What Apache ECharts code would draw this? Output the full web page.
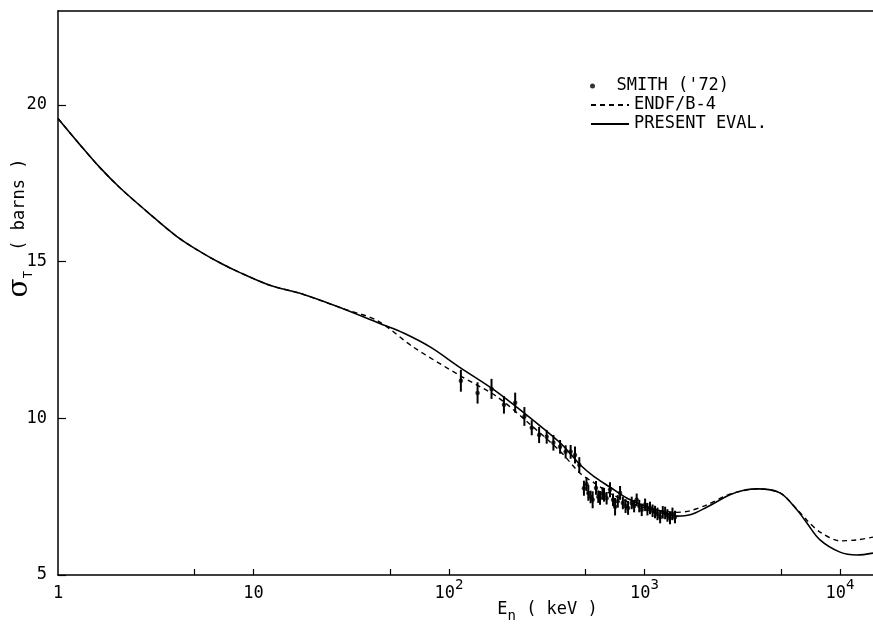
<!DOCTYPE html>
<html>
<head>
<meta charset="utf-8">
<script src="https://cdn.jsdelivr.net/npm/echarts@6/dist/echarts.min.js"></script>
<style>
html,body{margin:0;padding:0;background:#fff;}
#chart{width:873px;height:629px;}
</style>
</head>
<body>
<div id="chart"></div>
<script>
// ---- data (E in keV, sigma in barns) ----
const presentE = [1, 1.3, 1.64, 2.08, 2.85, 4.06, 5.33, 6.8, 8.53, 12.1, 17.9, 28.7, 45.9, 58.2, 80, 114, 168, 250, 370, 416, 468, 550, 668, 815, 1000, 1200, 1467, 1710, 2090, 2735, 3300, 3800, 4930, 6020, 6770, 7900, 10000, 12200, 14750];
const presentS = [19.57, 18.72, 18.00, 17.35, 16.60, 15.80, 15.32, 14.95, 14.65, 14.25, 13.96, 13.50, 12.99, 12.73, 12.28, 11.62, 10.93, 10.10, 9.22, 8.88, 8.52, 8.15, 7.80, 7.45, 7.20, 7.05, 6.88, 6.92, 7.17, 7.56, 7.72, 7.75, 7.62, 7.08, 6.66, 6.12, 5.73, 5.64, 5.70];

const endfE = [1, 1.3, 1.64, 2.08, 2.85, 4.06, 5.33, 6.8, 8.53, 12.1, 17.9, 28.7, 43, 65.5, 114, 176, 250, 370, 468, 550, 668, 815, 1000, 1200, 1467, 1710, 2090, 2735, 3800, 4930, 6020, 6770, 7900, 10000, 12200, 14750];
const endfS = [19.57, 18.72, 18.00, 17.35, 16.60, 15.80, 15.32, 14.95, 14.65, 14.25, 13.96, 13.50, 13.12, 12.28, 11.36, 10.69, 9.90, 8.95, 8.25, 7.95, 7.60, 7.35, 7.15, 7.05, 7.00, 7.05, 7.24, 7.58, 7.75, 7.62, 7.10, 6.75, 6.37, 6.09, 6.12, 6.21];

const smithE = [115, 140, 165, 191, 218, 243, 265, 289, 316, 342, 370, 395, 419, 441, 464, 490, 505, 516, 530, 543, 565, 580, 592, 610, 621, 640, 666, 690, 707, 730, 750, 775, 800, 824, 860, 885, 912, 940, 968, 1007, 1035, 1067, 1100, 1132, 1165, 1202, 1240, 1275, 1310, 1350, 1390, 1432];
const smithS = [11.2, 10.81, 10.94, 10.43, 10.5, 10.06, 9.7, 9.47, 9.41, 9.22, 9.09, 8.93, 8.93, 8.83, 8.51, 7.77, 7.9, 7.62, 7.49, 7.4, 7.78, 7.5, 7.46, 7.6, 7.56, 7.45, 7.72, 7.4, 7.18, 7.35, 7.62, 7.3, 7.2, 7.14, 7.3, 7.2, 7.4, 7.2, 7.08, 7.24, 7.1, 7.14, 7.05, 7.01, 6.95, 6.85, 7.0, 6.98, 6.9, 6.82, 6.95, 6.85];
const smithErr = [0.35, 0.34, 0.32, 0.28, 0.32, 0.3, 0.24, 0.26, 0.22, 0.25, 0.22, 0.21, 0.22, 0.27, 0.25, 0.24, 0.22, 0.25, 0.2, 0.27, 0.22, 0.2, 0.22, 0.2, 0.22, 0.2, 0.24, 0.2, 0.28, 0.2, 0.22, 0.2, 0.22, 0.22, 0.2, 0.2, 0.2, 0.2, 0.2, 0.2, 0.2, 0.2, 0.2, 0.2, 0.2, 0.2, 0.2, 0.2, 0.2, 0.2, 0.2, 0.2];

const xTickValues = [5, 10, 50, 100, 500, 1000, 5000, 10000];
const xLabelValues = [1, 10, 100, 1000, 10000];
const yTickValues = [5, 10, 15, 20];

const names = { smith: "SMITH ('72)", endf: 'ENDF/B-4', present: 'PRESENT EVAL.' };

// ---- build ----
const FONT = '"DejaVu Sans Mono", "Liberation Mono", monospace';
const zip = (a, b) => a.map((v, i) => [v, b[i]]);
const smithData = smithE.map((e, i) => [e, smithS[i], smithErr[i]]);

const chart = echarts.init(document.getElementById('chart'), null, { renderer: 'canvas' });

function xFmt(v) {
  const p = Math.round(Math.log10(v));
  if (p === 0) return '{b|1}';
  if (p === 1) return '{b|10}';
  return '{b|10}{s|' + p + '}';
}

const legendCommon = {
  orient: 'vertical', left: 585, itemWidth: 38, itemGap: 0,
  textStyle: { fontFamily: FONT, fontSize: 17, color: '#000', lineHeight: 18 },
  selectedMode: false
};

chart.setOption({
  backgroundColor: '#fff',
  animation: false,
  grid: { left: 58, right: 0, top: 11, bottom: 54, containLabel: false, outerBoundsMode: 'none' },
  legend: [
    Object.assign({}, legendCommon, { top: 72, itemHeight: 5, data: [{ name: names.smith, icon: 'circle' }] }),
    Object.assign({}, legendCommon, { top: 91, itemHeight: 10, itemStyle: { opacity: 0 }, data: [names.endf] }),
    Object.assign({}, legendCommon, { top: 110, itemHeight: 10, itemStyle: { opacity: 0 }, data: [names.present] })
  ],
  xAxis: [{
    type: 'log', logBase: 10, min: 1, max: 14750, position: 'bottom',
    axisLine: { show: true, lineStyle: { color: '#000', width: 1.5 } },
    axisTick: { show: true, inside: true, length: 6, customValues: xTickValues, lineStyle: { color: '#000', width: 1.2 } },
    minorTick: { show: false },
    splitLine: { show: false },
    axisLabel: {
      customValues: xLabelValues, margin: 3, formatter: xFmt,
      rich: {
        b: { fontFamily: FONT, fontSize: 17, color: '#000', lineHeight: 24, verticalAlign: 'bottom' },
        s: { fontFamily: FONT, fontSize: 14, color: '#000', lineHeight: 24, verticalAlign: 'top' }
      }
    },
    name: '{e|E}{n|n}{t| ( keV )}', nameLocation: 'middle', nameGap: 26, nameMoveOverlap: false,
    nameTextStyle: {
      padding: [0, 0, 0, 164],
      rich: {
        e: { fontFamily: FONT, fontSize: 17, color: '#000', lineHeight: 22, verticalAlign: 'top' },
        n: { fontFamily: FONT, fontSize: 14, color: '#000', lineHeight: 22, verticalAlign: 'bottom' },
        t: { fontFamily: FONT, fontSize: 17, color: '#000', lineHeight: 22, verticalAlign: 'top' }
      }
    }
  }, {
    type: 'log', logBase: 10, min: 1, max: 14750, position: 'top',
    axisLine: { show: true, onZero: false, lineStyle: { color: '#000', width: 1.5 } },
    axisTick: { show: false }, axisLabel: { show: false }, splitLine: { show: false }
  }],
  yAxis: {
    type: 'value', min: 5, max: 23, interval: 5,
    axisLine: { show: true, lineStyle: { color: '#000', width: 1.5 } },
    axisTick: { show: true, inside: true, length: 8, customValues: yTickValues, lineStyle: { color: '#000', width: 1.2 } },
    splitLine: { show: false },
    axisLabel: { customValues: yTickValues, margin: 11, fontFamily: FONT, fontSize: 17, color: '#000' },
    name: '{s|σ}{t|T}{b|  ( barns )}', nameLocation: 'middle', nameGap: 23, nameRotate: 90, nameMoveOverlap: false,
    nameTextStyle: {
      padding: [0, 0, 0, 130],
      rich: {
        s: { fontFamily: '"DejaVu Serif", serif', fontSize: 28, color: '#000', lineHeight: 30, verticalAlign: 'middle' },
        t: { fontFamily: FONT, fontSize: 12, color: '#000', lineHeight: 30, verticalAlign: 'bottom' },
        b: { fontFamily: FONT, fontSize: 17, color: '#000', lineHeight: 30, verticalAlign: 'middle' }
      }
    }
  },
  series: [
    {
      name: names.present, type: 'line', data: zip(presentE, presentS),
      smooth: 0.35, symbol: 'none', clip: true,
      lineStyle: { color: '#000', width: 1.6 }, itemStyle: { color: '#000' }, z: 3
    },
    {
      name: names.endf, type: 'line', data: zip(endfE, endfS),
      smooth: 0.3, symbol: 'none', clip: true,
      lineStyle: { color: '#000', width: 1.4, type: [5, 4] }, itemStyle: { color: '#000' }, z: 2
    },
    {
      type: 'custom', data: smithData, z: 4,
      renderItem: function (params, api) {
        const e = api.value(0), s = api.value(1), d = api.value(2);
        const p1 = api.coord([e, s - d]);
        const p2 = api.coord([e, s + d]);
        return { type: 'line', shape: { x1: p1[0], y1: p1[1], x2: p2[0], y2: p2[1] }, style: { stroke: '#000', lineWidth: 2 } };
      }
    },
    {
      name: names.smith, type: 'scatter', data: smithData.map(d => [d[0], d[1]]),
      symbol: 'circle', symbolSize: 4.5, itemStyle: { color: '#000' }, z: 5
    }
  ]
});
</script>
</body>
</html>
